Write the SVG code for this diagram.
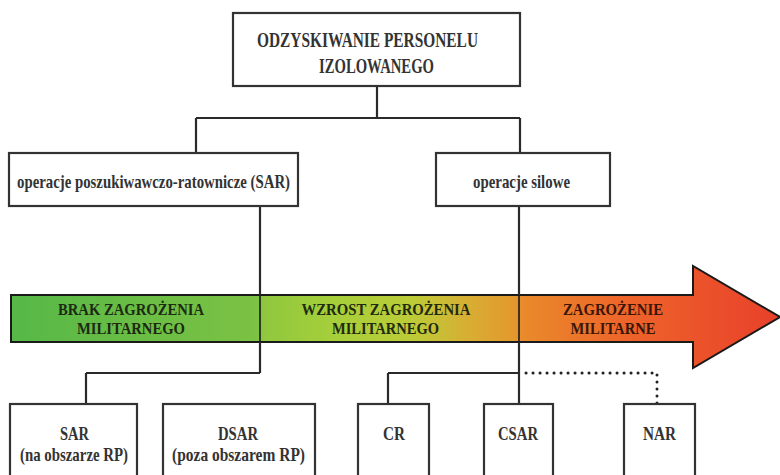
<svg xmlns="http://www.w3.org/2000/svg" width="780" height="475" viewBox="0 0 780 475">
<defs>
<linearGradient id="arrowGrad" gradientUnits="userSpaceOnUse" x1="11" y1="0" x2="780" y2="0">
<stop offset="0" stop-color="#56b847"/>
<stop offset="0.32" stop-color="#7cc243"/>
<stop offset="0.33" stop-color="#90c83e"/>
<stop offset="0.42" stop-color="#a6cf3a"/>
<stop offset="0.52" stop-color="#bccc38"/>
<stop offset="0.6" stop-color="#d9ac32"/>
<stop offset="0.655" stop-color="#e3982d"/>
<stop offset="0.665" stop-color="#e98a2b"/>
<stop offset="0.8" stop-color="#ee642a"/>
<stop offset="1" stop-color="#e8402a"/>
</linearGradient>
<style>
.box{fill:#fff;stroke:#333;stroke-width:2.2}
.t{font-family:"Liberation Serif","DejaVu Serif",serif;font-weight:bold;fill:#333;text-anchor:middle}
.big{font-size:20px}
.mid{font-size:19px}
.at{font-family:"Liberation Serif","DejaVu Serif",serif;font-weight:bold;font-size:17px;text-anchor:middle}
.ln{fill:none;stroke:#2a2a2a;stroke-width:2.2}
.thin{fill:none;stroke:#1a1a1a;stroke-width:1.6}
.dot{fill:none;stroke:#222;stroke-width:3;stroke-linecap:round;stroke-dasharray:0.1 6.9}
</style>
</defs>
<rect width="780" height="475" fill="#fff"/>

<g id="arrow">
<polygon points="11,295 693,295 693,266 780,317 693,368 693,342 11,342" fill="url(#arrowGrad)" stroke="#1a1a1a" stroke-width="2"/>
<text class="at" x="131" y="315" fill="#1c2a12" textLength="146" lengthAdjust="spacingAndGlyphs">BRAK ZAGROŻENIA</text>
<text class="at" x="131" y="334" fill="#1c2a12" textLength="108" lengthAdjust="spacingAndGlyphs">MILITARNEGO</text>
<text class="at" x="386" y="315" fill="#1f2a10" textLength="169" lengthAdjust="spacingAndGlyphs">WZROST ZAGROŻENIA</text>
<text class="at" x="385.5" y="334" fill="#1f2a10" textLength="107" lengthAdjust="spacingAndGlyphs">MILITARNEGO</text>
<text class="at" x="613" y="315" fill="#3a1608" textLength="100" lengthAdjust="spacingAndGlyphs">ZAGROŻENIE</text>
<text class="at" x="613" y="334" fill="#3a1608" textLength="85" lengthAdjust="spacingAndGlyphs">MILITARNE</text>
</g>

<g id="connectors">
<path class="ln" d="M377,86 V118 M196,118 H520 M196,118 V153 M520,118 V153"/>
<path class="ln" d="M260,206 V295 M260,342 V373 M86,373 H260 M86,373 V404"/>
<path class="ln" d="M519,206 V295 M519,342 V373 M388,373 H519 M388,373 V404 M519,373 V404"/>
<path class="thin" d="M260,295 V342 M519,295 V342"/>
<path class="dot" d="M526,373 H657 V404"/>
</g>

<g id="node-root">
<rect class="box" x="233" y="13" width="287" height="73" stroke-width="2.6"/>
<text class="t big" x="367.5" y="47" textLength="221" lengthAdjust="spacingAndGlyphs">ODZYSKIWANIE PERSONELU</text>
<text class="t big" x="376.5" y="73" textLength="115" lengthAdjust="spacingAndGlyphs">IZOLOWANEGO</text>
</g>

<g id="node-sar-ops">
<rect class="box" x="9" y="153" width="289" height="53"/>
<text class="t mid" x="153.5" y="188" textLength="273" lengthAdjust="spacingAndGlyphs">operacje poszukiwawczo-ratownicze (SAR)</text>
</g>

<g id="node-force-ops">
<rect class="box" x="436" y="153" width="174" height="53"/>
<text class="t mid" x="521.5" y="188" textLength="97" lengthAdjust="spacingAndGlyphs">operacje silowe</text>
</g>

<g id="node-sar">
<rect class="box" x="10" y="404" width="127" height="80"/>
<text class="t mid" x="74.5" y="440" textLength="29" lengthAdjust="spacingAndGlyphs">SAR</text>
<text class="t mid" x="74" y="461" textLength="108" lengthAdjust="spacingAndGlyphs">(na obszarze RP)</text>
</g>

<g id="node-dsar">
<rect class="box" x="163" y="404" width="152" height="80"/>
<text class="t mid" x="238" y="440" textLength="40" lengthAdjust="spacingAndGlyphs">DSAR</text>
<text class="t mid" x="238.5" y="461" textLength="133" lengthAdjust="spacingAndGlyphs">(poza obszarem RP)</text>
</g>

<g id="node-cr">
<rect class="box" x="358" y="404" width="71" height="80"/>
<text class="t mid" x="394" y="440" textLength="22" lengthAdjust="spacingAndGlyphs">CR</text>
</g>

<g id="node-csar">
<rect class="box" x="484" y="404" width="69" height="80"/>
<text class="t mid" x="518" y="440" textLength="40" lengthAdjust="spacingAndGlyphs">CSAR</text>
</g>

<g id="node-nar">
<rect class="box" x="624" y="404" width="71" height="80"/>
<text class="t mid" x="659.5" y="440" textLength="33" lengthAdjust="spacingAndGlyphs">NAR</text>
</g>
</svg>
